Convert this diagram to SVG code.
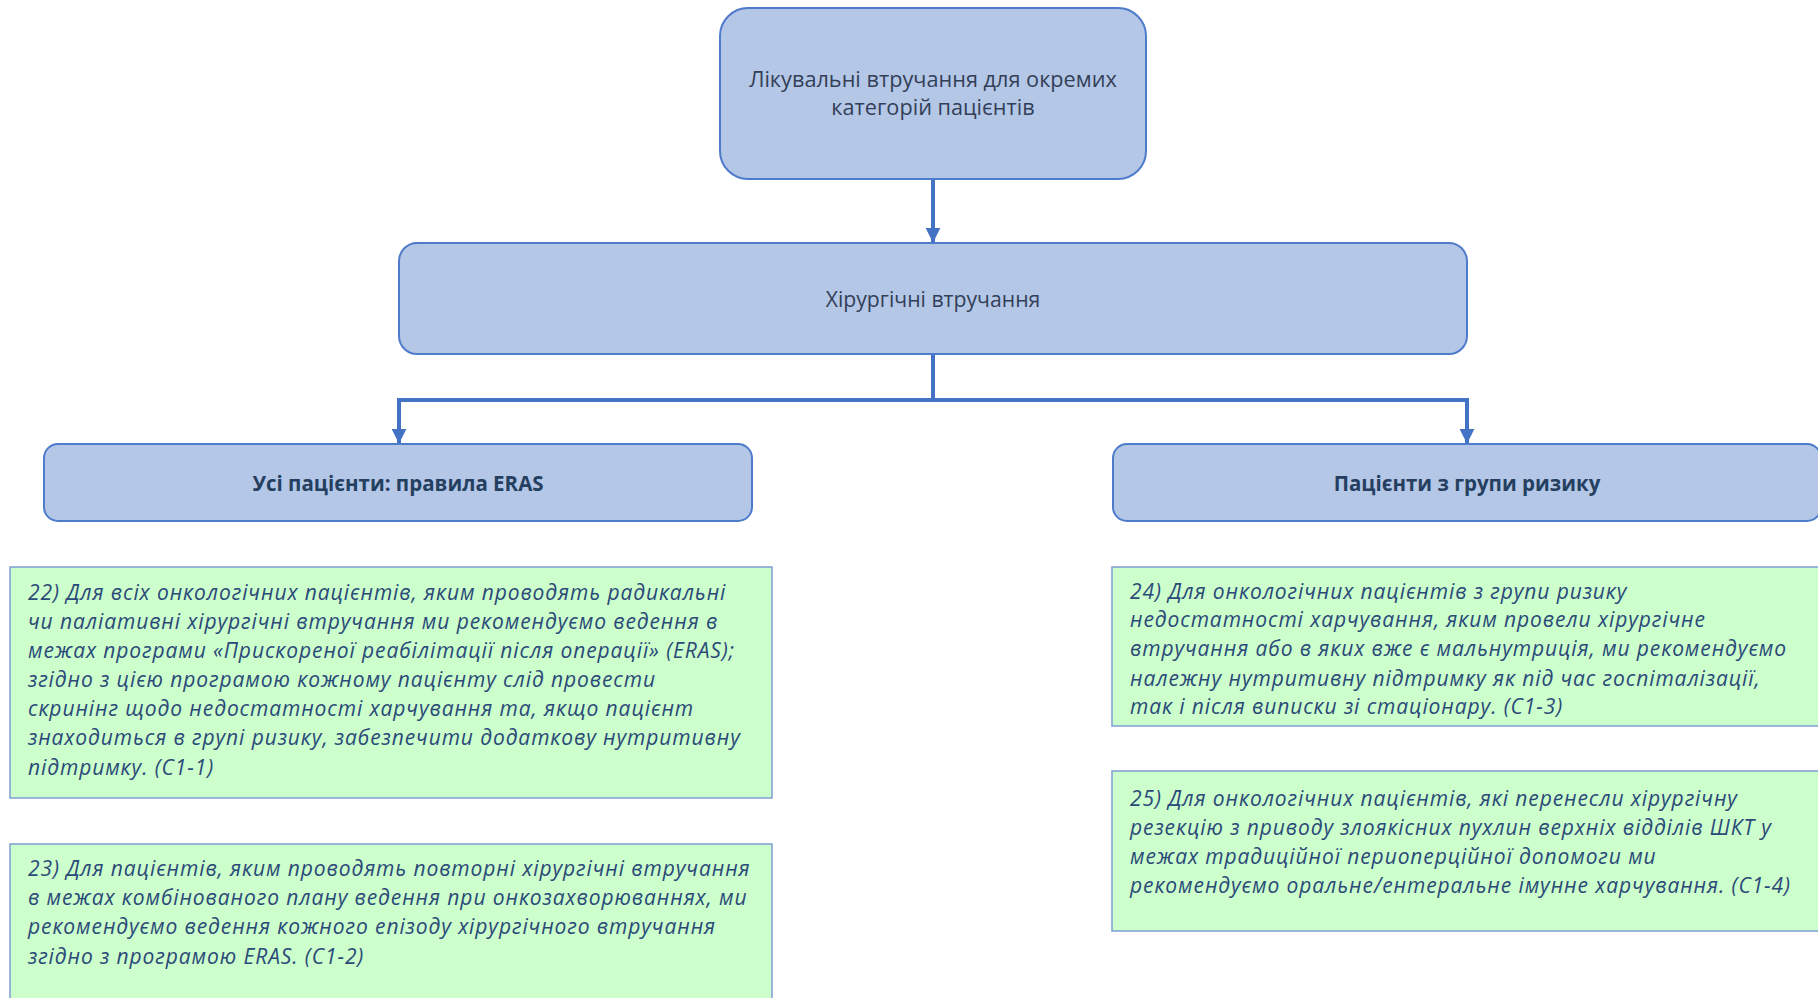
<svg xmlns="http://www.w3.org/2000/svg" width="1818" height="998" viewBox="0 0 1818 998">
<style>
.blue{fill:#B4C7E7;stroke:#4F7BCB;stroke-width:2}
.green{fill:#CCFFCC;stroke:#7F9ED3;stroke-width:1.5}
.t{font-family:"Open Sans","Noto Sans","Liberation Sans",sans-serif;fill:#333F57;text-anchor:middle}
.h{font-family:"Open Sans","Noto Sans","Liberation Sans",sans-serif;font-weight:bold;fill:#243F60;text-anchor:middle;font-size:20.5px}
.g{font-family:"Open Sans","Noto Sans","Liberation Sans",sans-serif;font-style:italic;fill:#2B4A78;font-size:21px;letter-spacing:0.9px}
.c{fill:none;stroke:#4472C4;stroke-width:4}
</style>
<defs>
<marker id="arr" markerWidth="4.4" markerHeight="4.4" refX="3.6" refY="2.2" orient="auto" markerUnits="strokeWidth">
<path d="M0,0.3 L3.8,2.2 L0,4.1 z" fill="#4472C4"/>
</marker>
</defs>
<rect width="1818" height="998" fill="#FFFFFF"/>
<g id="connectors">
<line class="c" x1="933" y1="180" x2="933" y2="242" marker-end="url(#arr)"/>
<polyline class="c" points="933,354 933,400 399,400 399,443" marker-end="url(#arr)"/>
<polyline class="c" points="933,400 1467,400 1467,443" marker-end="url(#arr)"/>
</g>
<g id="node-root">
<rect class="blue" x="720" y="8" width="426" height="171" rx="28"/>
<text class="t" font-size="21.7"><tspan x="933" y="87">Лікувальні втручання для окремих</tspan><tspan x="933" y="115">категорій пацієнтів</tspan></text>
</g>
<g id="node-surgery">
<rect class="blue" x="399" y="243" width="1068" height="111" rx="18"/>
<text class="t" font-size="21.2" x="933" y="307">Хірургічні втручання</text>
</g>
<g id="node-all">
<rect class="blue" x="44" y="444" width="708" height="77" rx="14"/>
<text class="h" x="398" y="491">Усі пацієнти: правила ERAS</text>
</g>
<g id="node-risk">
<rect class="blue" x="1113" y="444" width="708" height="77" rx="14"/>
<text class="h" x="1467" y="491">Пацієнти з групи ризику</text>
</g>
<g id="node-22">
<rect class="green" x="10" y="567" width="762" height="231"/>
<text class="g"><tspan x="28" y="600">22) Для всіх онкологічних пацієнтів, яким проводять радикальні</tspan><tspan x="28" y="629">чи паліативні хірургічні втручання ми рекомендуємо ведення в</tspan><tspan x="28" y="658">межах програми «Прискореної реабілітації після операції» (ERAS);</tspan><tspan x="28" y="687">згідно з цією програмою кожному пацієнту слід провести</tspan><tspan x="28" y="716">скринінг щодо недостатності харчування та, якщо пацієнт</tspan><tspan x="28" y="745">знаходиться в групі ризику, забезпечити додаткову нутритивну</tspan><tspan x="28" y="775">підтримку. (С1-1)</tspan></text>
</g>
<g id="node-23">
<rect class="green" x="10" y="844" width="762" height="170"/>
<text class="g"><tspan x="28" y="876">23) Для пацієнтів, яким проводять повторні хірургічні втручання</tspan><tspan x="28" y="905">в межах комбінованого плану ведення при онкозахворюваннях, ми</tspan><tspan x="28" y="934">рекомендуємо ведення кожного епізоду хірургічного втручання</tspan><tspan x="28" y="964">згідно з програмою ERAS. (С1-2)</tspan></text>
</g>
<g id="node-24">
<rect class="green" x="1112" y="567" width="720" height="159"/>
<text class="g"><tspan x="1130" y="599">24) Для онкологічних пацієнтів з групи ризику</tspan><tspan x="1130" y="627">недостатності харчування, яким провели хірургічне</tspan><tspan x="1130" y="656">втручання або в яких вже є мальнутриція, ми рекомендуємо</tspan><tspan x="1130" y="686">належну нутритивну підтримку як під час госпіталізації,</tspan><tspan x="1130" y="714">так і після виписки зі стаціонару. (С1-3)</tspan></text>
</g>
<g id="node-25">
<rect class="green" x="1112" y="771" width="720" height="160"/>
<text class="g"><tspan x="1130" y="806">25) Для онкологічних пацієнтів, які перенесли хірургічну</tspan><tspan x="1130" y="835">резекцію з приводу злоякісних пухлин верхніх відділів ШКТ у</tspan><tspan x="1130" y="864">межах традиційної периоперційної допомоги ми</tspan><tspan x="1130" y="893">рекомендуємо оральне/ентеральне імунне харчування. (С1-4)</tspan></text>
</g>
</svg>
